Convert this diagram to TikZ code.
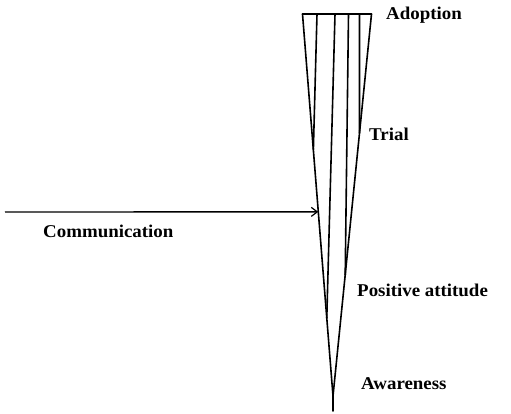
\documentclass[tikz,border=0pt]{standalone}
\usepackage{fontspec}
\setmainfont{Liberation Serif}[FakeStretch=1.05]
\usetikzlibrary{calc,arrows.meta}
\begin{document}
\begin{tikzpicture}[x=1pt,y=-1pt,
  cone/.style={line width=1.6pt,line cap=round,line join=round},
  lbl/.style={anchor=base west,inner sep=0pt,font=\fontsize{18}{20}\selectfont\bfseries},
  comm/.style={line width=1.4pt,-{Straight Barb[length=6pt,width=9pt,line width=1.2pt]}}]
\useasboundingbox (0,0) rectangle (511,414);
% outer cone
\coordinate (TL) at (302.5,14);
\coordinate (TR) at (371.5,14);
\coordinate (apex) at (333,396);
\coordinate (tail) at (333,411);
% inner line tops
\coordinate (t2) at (317,14);
\coordinate (t3) at (335,14);
\coordinate (t4) at (348.5,14);
\coordinate (t5) at (359.5,14);
% inner line ends on outer lines
\coordinate (e2) at ($(TL)!0.356!(apex)$);
\coordinate (e3) at ($(TL)!0.796!(apex)$);
\coordinate (e4) at ($(TR)!0.683!(apex)$);
\coordinate (e5) at ($(TR)!0.312!(apex)$);
\coordinate (ca) at ($(TL)!0.518!(apex)$);
\coordinate (cs) at (5,212);

\draw[cone] (TL) -- (TR);
\draw[cone] (TL) -- (apex) -- (TR);
\draw[cone] (apex) -- (tail);
\draw[cone] (t2) -- (e2);
\draw[cone] (t3) -- (e3);
\draw[cone] (t4) -- (e4);
\draw[cone] (t5) -- (e5);
\draw[comm] (cs) -- (ca);

\node[lbl] (adoption) at (386,20) {Adoption};
\node[lbl] (trial) at (369,141) {Trial};
\node[lbl] (communication) at (43,237) {Communication};
\node[lbl] (positive) at (357,296) {Positive attitude};
\node[lbl] (awareness) at (361,389) {Awareness};
\end{tikzpicture}
\end{document}
